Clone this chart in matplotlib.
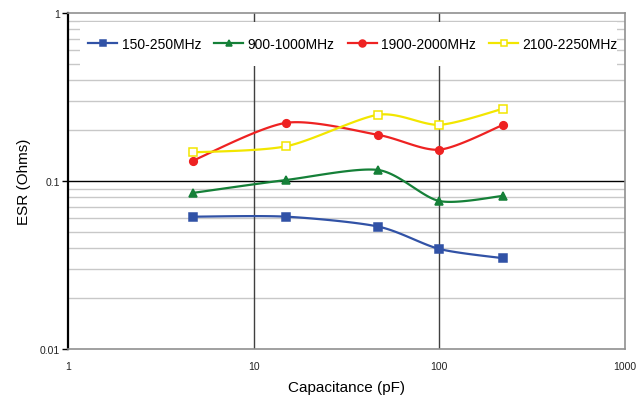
import numpy as np
import matplotlib
matplotlib.use("Agg")
import matplotlib.pyplot as plt
from matplotlib.lines import Line2D
from matplotlib.patches import Rectangle

plt.rcParams['font.family'] = ['Liberation Sans', 'DejaVu Sans']

capacitance = [4.7, 15, 47, 100, 220]
labels = ["150-250MHz", "900-1000MHz", "1900-2000MHz", "2100-2250MHz"]
esr_150 = [0.0613, 0.0613, 0.0535, 0.0394, 0.0347]
esr_900 = [0.0849, 0.1014, 0.1162, 0.0760, 0.0815]
esr_1900 = [0.132, 0.222, 0.188, 0.1536, 0.2155]
esr_2100 = [0.148, 0.161, 0.248, 0.216, 0.269]

series = [esr_150, esr_900, esr_1900, esr_2100]
colors = ["#3152A6", "#158038", "#EE2222", "#F2E600"]
markers = ["s", "^", "o", "s"]
mfcs = ["#3152A6", "#158038", "#EE2222", "white"]


def smooth(x, y, n=30):
    # Catmull-Rom spline through points in log-log space (Excel-like smoothing)
    lx = np.log10(np.asarray(x, float))
    ly = np.log10(np.asarray(y, float))
    P = np.column_stack([lx, ly])
    P = np.vstack([P[0], P, P[-1]])
    out = []
    t = np.linspace(0, 1, n)
    for i in range(1, len(P) - 2):
        p0, p1, p2, p3 = P[i - 1], P[i], P[i + 1], P[i + 2]
        m1 = (p2 - p0) / 2.0 * 0.8
        m2 = (p3 - p1) / 2.0 * 0.8
        h00 = 2 * t**3 - 3 * t**2 + 1
        h10 = t**3 - 2 * t**2 + t
        h01 = -2 * t**3 + 3 * t**2
        h11 = t**3 - t**2
        seg = (h00[:, None] * p1 + h10[:, None] * m1 + h01[:, None] * p2 + h11[:, None] * m2)
        out.append(seg)
    S = np.vstack(out)
    return 10 ** S[:, 0], 10 ** S[:, 1]


fig = plt.figure(figsize=(6.39, 4.02), dpi=100)
ax = fig.add_axes([0.1064, 0.1294, 0.8716, 0.8358])
ax.set_xscale('log')
ax.set_yscale('log')
ax.set_xlim(1, 1000)
ax.set_ylim(0.01, 1)

# gridlines
for v in [2, 3, 4, 5, 6, 7, 8, 9]:
    for d in [0.01, 0.1]:
        ax.axhline(v * d, color='#c8c8c8', lw=1.0, zorder=0)
ax.axhline(0.1, color='black', lw=1.0, zorder=1)
for xv in [10, 100]:
    ax.axvline(xv, color='#404040', lw=1.0, zorder=1)

# white legend background block
ax.add_patch(Rectangle((0.0215, 0.842), 0.9641, 0.130, transform=ax.transAxes,
                       facecolor='white', edgecolor='none', zorder=2))

for ys, c, m, mf, lab in zip(series, colors, markers, mfcs, labels):
    sx, sy = smooth(capacitance, ys)
    ax.plot(sx, sy, color=c, lw=1.6, zorder=3)
    ax.plot(capacitance, ys, linestyle='none', marker=m, markersize=5.5,
            markerfacecolor=mf, markeredgecolor=c, markeredgewidth=1.1, zorder=4)

ax.set_xticks([1, 10, 100, 1000])
ax.set_xticklabels(["1", "10", "100", "1000"])
ax.set_yticks([0.01, 0.1, 1])
ax.set_yticklabels(["0.01", "0.1", "1"])
ax.minorticks_off()
ax.tick_params(axis='x', length=0, labelsize=7.5, pad=9, colors='#222222')
ax.tick_params(axis='y', length=4, width=1, labelsize=7.5, pad=2, colors='black', labelcolor='#222222')

for s in ['top', 'right', 'bottom']:
    ax.spines[s].set_color('#909090')
    ax.spines[s].set_linewidth(1.2)
ax.spines['left'].set_color('black')
ax.spines['left'].set_linewidth(1.6)

ax.set_xlabel("Capacitance (pF)", fontsize=11, labelpad=6)
ax.set_ylabel("ESR (Ohms)", fontsize=11, labelpad=6)

handles = [Line2D([0], [0], color=c, lw=1.6, marker=m, markersize=5,
                  markerfacecolor=mf, markeredgecolor=c, markeredgewidth=1.1)
           for c, m, mf in zip(colors, markers, mfcs)]
leg = ax.legend(handles, labels, ncol=4, loc='center',
                bbox_to_anchor=(0.5117, 0.909), fontsize=10, frameon=False,
                handlelength=2.1, handletextpad=0.3,
                columnspacing=0.95, borderpad=0.2, borderaxespad=0)
leg.set_zorder(5)

fig.savefig("out.png", dpi=100)
